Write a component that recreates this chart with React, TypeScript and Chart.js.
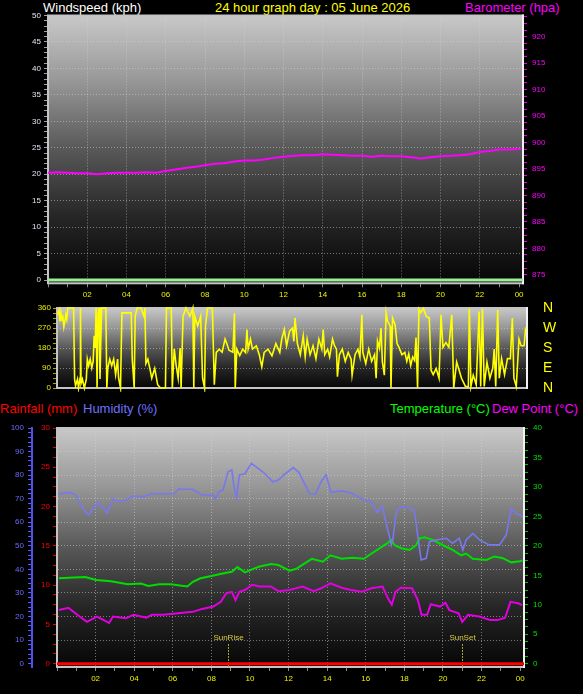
import { useEffect, useRef } from "react";
import { Chart, registerables } from "chart.js";

Chart.register(...registerables);

// ---- data (hours of the day) ----
const hourTicks = [0, 1, 2, 3, 4, 5, 6, 7, 8, 9, 10, 11, 12, 13, 14, 15, 16, 17, 18, 19, 20, 21, 22, 23, 24];
const hourLabels = ["02", "04", "06", "08", "10", "12", "14", "16", "18", "20", "22", "00"];

const speedTimes = [0, 24.2];
const speedValues = [0, 0];

const baroTimes = [0, 0.5, 1, 1.5, 2, 2.5, 3, 3.5, 4, 4.5, 5, 5.5, 6, 6.5, 7, 7.5, 8, 8.5, 9, 9.5, 10, 10.5, 11, 11.5, 12, 12.5, 13, 13.5, 14, 14.5, 15, 15.5, 16, 16.5, 17, 17.5, 18, 18.5, 19, 19.5, 20, 20.5, 21, 21.5, 22, 22.5, 23, 23.5, 24.1];
const baroValues = [894.3, 894.4, 894.3, 894.2, 894.2, 894.0, 894.2, 894.3, 894.3, 894.3, 894.4, 894.3, 894.6, 894.9, 895.2, 895.4, 895.7, 896.0, 896.1, 896.4, 896.6, 896.6, 896.8, 897.1, 897.3, 897.5, 897.6, 897.6, 897.8, 897.7, 897.6, 897.5, 897.5, 897.3, 897.5, 897.4, 897.4, 897.2, 897.0, 897.2, 897.4, 897.5, 897.6, 897.8, 898.2, 898.4, 898.7, 898.7, 898.8];

const dirTimes = [0.02, 0.1, 0.15, 0.2, 0.25, 0.3, 0.35, 0.4, 0.45, 0.5, 0.55, 0.85, 0.9, 0.95, 1.05, 1.1, 1.18, 1.2, 1.23, 1.3, 1.4, 1.5, 1.55, 1.62, 1.7, 1.78, 1.85, 1.9, 1.95, 2.0, 2.05, 2.1, 2.15, 2.2, 2.28, 2.5, 2.55, 2.6, 2.7, 2.8, 2.9, 3.0, 3.1, 3.15, 3.25, 3.32, 3.5, 3.8, 3.85, 3.95, 4.0, 4.1, 4.3, 4.45, 4.5, 4.55, 4.65, 4.75, 4.85, 5.0, 5.15, 5.3, 5.55, 5.6, 5.85, 5.9, 6.0, 6.1, 6.2, 6.3, 6.35, 6.45, 6.6, 6.8, 6.95, 7.0, 7.05, 7.2, 7.35, 7.45, 7.55, 7.6, 7.7, 7.95, 8.05, 8.15, 8.3, 8.45, 8.6, 8.7, 8.8, 9.0, 9.08, 9.12, 9.2, 9.35, 9.5, 9.65, 9.72, 9.78, 9.9, 10.0, 10.2, 10.35, 10.48, 10.6, 10.8, 11.0, 11.2, 11.4, 11.5, 11.63, 11.75, 11.9, 12.05, 12.12, 12.18, 12.3, 12.45, 12.6, 12.7, 12.8, 12.95, 13.1, 13.25, 13.4, 13.55, 13.62, 13.7, 13.85, 13.95, 14.1, 14.2, 14.3, 14.35, 14.45, 14.6, 14.75, 14.9, 15.05, 15.1, 15.25, 15.4, 15.5, 15.6, 15.65, 15.8, 15.95, 16.1, 16.25, 16.33, 16.4, 16.5, 16.58, 16.65, 16.75, 16.84, 16.92, 17.05, 17.09, 17.17, 17.3, 17.4, 17.5, 17.65, 17.8, 17.9, 18.0, 18.1, 18.2, 18.3, 18.37, 18.45, 18.52, 18.6, 18.75, 18.9, 19.05, 19.14, 19.25, 19.4, 19.55, 19.65, 19.75, 19.9, 20.05, 20.2, 20.3, 20.45, 20.55, 20.7, 20.9, 21.05, 21.1, 21.18, 21.3, 21.45, 21.6, 21.68, 21.77, 21.86, 22.0, 22.15, 22.3, 22.37, 22.45, 22.55, 22.63, 22.75, 22.9, 23.05, 23.2, 23.3, 23.38, 23.5, 23.64, 23.75, 23.9, 23.98, 24.05];
const dirValues = [330, 350, 300, 340, 310, 320, 275, 300, 330, 310, 360, 360, 40, 10, 40, 0, 45, 360, 20, 40, 0, 40, 130, 100, 130, 90, 120, 235, 180, 360, 0, 330, 360, 40, 360, 360, 0, 90, 130, 100, 130, 60, 130, 45, 0, 338, 338, 338, 132, 0, 323, 360, 360, 323, 360, 110, 130, 88, 44, 88, 15, 0, 0, 360, 360, 0, 176, 100, 44, 180, 0, 323, 360, 323, 360, 0, 323, 280, 323, 44, 0, 280, 360, 360, 15, 160, 175, 161, 220, 197, 170, 161, 336, 0, 175, 146, 175, 160, 263, 175, 220, 175, 190, 150, 95, 160, 175, 145, 200, 160, 220, 263, 190, 256, 270, 210, 315, 200, 150, 234, 140, 220, 150, 190, 132, 220, 175, 263, 150, 175, 140, 220, 190, 175, 51, 150, 175, 120, 160, 130, 58, 150, 175, 140, 329, 160, 110, 175, 120, 150, 44, 212, 180, 270, 117, 58, 339, 300, 278, 0, 315, 285, 200, 183, 150, 160, 120, 154, 102, 140, 124, 227, 0, 354, 340, 358, 322, 315, 80, 60, 88, 44, 329, 183, 205, 183, 329, 0, 117, 88, 44, 7, 7, 358, 7, 58, 15, 344, 7, 358, 7, 117, 44, 90, 175, 7, 351, 44, 132, 60, 132, 132, 315, 44, 7, 220, 190, 190, 270, 270];
const compassLabels = ["N", "E", "S", "W", "N"];

const rainTimes = [0, 24.2];
const rainValues = [0, 0];

const humTimes = [0.1, 0.68, 0.96, 1.2, 1.46, 1.64, 1.85, 2.07, 2.4, 2.6, 2.9, 3.2, 3.57, 3.95, 4.5, 4.9, 6.07, 6.3, 7.04, 7.5, 8.1, 8.2, 8.4, 8.6, 8.87, 9.06, 9.16, 9.3, 9.45, 9.74, 10.07, 10.3, 10.7, 11.18, 11.47, 11.76, 12.24, 12.53, 12.82, 13.1, 13.4, 13.69, 13.94, 14.2, 14.75, 15.3, 15.7, 16.3, 16.58, 16.87, 17.1, 17.25, 17.32, 17.4, 17.58, 17.84, 18.18, 18.53, 18.7, 18.87, 19.13, 19.3, 19.65, 20.17, 20.5, 20.85, 21.03, 21.2, 21.55, 21.9, 22.4, 22.93, 23.28, 23.54, 23.8, 24.14];
const humValues = [72.0, 72.7, 71.6, 68.0, 64.5, 63.1, 65.5, 68.2, 66.1, 63.9, 69.9, 68.7, 69.4, 71.1, 70.9, 72.1, 72.1, 74.0, 74.0, 71.6, 71.6, 69.9, 73.0, 73.6, 81.5, 82.2, 75.8, 70.2, 80.1, 80.6, 85.0, 83.6, 81.2, 77.2, 77.9, 80.1, 83.2, 81.2, 76.5, 72.1, 72.0, 77.2, 80.1, 72.7, 73.3, 72.3, 70.2, 68.7, 64.2, 66.6, 58.1, 53.3, 50.4, 52.5, 64.5, 66.6, 66.6, 64.5, 53.9, 44.0, 44.7, 51.8, 52.5, 53.2, 51.1, 53.2, 48.2, 52.5, 55.3, 52.5, 50.4, 50.4, 54.6, 65.9, 63.8, 62.4];

const tempTimes = [0.1, 0.6, 1.46, 2.03, 2.8, 3.67, 4.35, 4.73, 5.3, 5.89, 6.75, 7.04, 7.43, 8.0, 8.58, 9.06, 9.35, 9.74, 10.1, 10.5, 11.1, 11.47, 12.05, 12.4, 13.2, 13.78, 14.17, 14.75, 15.3, 15.9, 16.3, 16.67, 17.14, 17.32, 17.5, 17.84, 18.27, 18.6, 18.8, 19.05, 19.47, 20.0, 20.5, 20.95, 21.2, 21.55, 22.25, 22.67, 23.1, 23.54, 23.97, 24.12];
const tempValues = [14.5, 14.6, 14.7, 14.2, 14.0, 13.5, 13.6, 13.2, 13.5, 13.5, 13.1, 13.9, 14.5, 14.9, 15.3, 15.6, 16.4, 15.5, 16.0, 16.5, 16.9, 16.75, 15.8, 16.1, 17.8, 17.3, 18.4, 17.8, 18.0, 17.8, 18.7, 19.5, 20.5, 21.0, 20.1, 19.6, 19.3, 20.1, 21.3, 21.45, 21.0, 20.1, 19.3, 18.4, 18.7, 17.8, 17.6, 18.2, 17.9, 17.2, 17.4, 17.5];

const dewTimes = [0.1, 0.59, 1.17, 1.55, 2.07, 2.5, 2.7, 2.9, 3.57, 3.96, 4.63, 4.92, 5.5, 6.27, 7.04, 7.52, 8.1, 8.49, 8.77, 9.06, 9.25, 9.45, 9.74, 10.12, 10.5, 11.08, 11.47, 12.05, 12.72, 13.3, 13.69, 14.17, 14.75, 15.23, 15.8, 16.29, 16.87, 17.15, 17.35, 17.54, 17.83, 18.4, 18.7, 18.89, 19.18, 19.37, 19.85, 20.13, 20.33, 20.81, 21.0, 21.3, 21.88, 22.45, 22.83, 23.22, 23.5, 23.9, 24.1];
const dewValues = [9.1, 9.5, 8.0, 7.1, 8.0, 7.25, 6.9, 8.0, 7.7, 8.3, 7.8, 8.3, 8.3, 8.55, 8.8, 9.3, 9.7, 10.5, 11.95, 12.2, 10.8, 12.2, 12.5, 13.4, 13.1, 13.1, 12.3, 12.5, 13.1, 12.3, 12.8, 13.65, 12.9, 12.5, 12.2, 12.8, 13.1, 11.1, 10.0, 12.2, 12.9, 12.8, 10.8, 8.3, 8.3, 10.1, 9.7, 10.35, 9.1, 8.55, 7.1, 8.3, 8.0, 7.4, 7.4, 7.8, 10.5, 10.25, 9.95];

const sunTimes = [8.87, 21.0];
const sunLabels = ["SunRise", "SunSet"];

// ---- styling helpers ----
const FONT = "'Liberation Sans', Arial, sans-serif";
const tickFont = { family: FONT, size: 8 };
const GRID = "rgba(215,215,215,0.5)";

const pts = (t: number[], v: number[]) => t.map((x, i) => ({ x, y: v[i] }));
const steps = (from: number, to: number, step: number) => {
  const out: number[] = [];
  for (let v = from; v <= to + 1e-9; v += step) out.push(Math.round(v * 100) / 100);
  return out;
};

const panel = {
  id: "panel",
  beforeDraw(c: any) {
    const { ctx, chartArea: a } = c;
    const g = ctx.createLinearGradient(0, a.top, 0, a.bottom);
    g.addColorStop(0, "#c8c8c8");
    g.addColorStop(0.25, "#969696");
    g.addColorStop(0.5, "#585858");
    g.addColorStop(0.75, "#262626");
    g.addColorStop(1, "#060606");
    ctx.save();
    ctx.fillStyle = g;
    ctx.fillRect(a.left, a.top, a.right - a.left, a.bottom - a.top);
    ctx.restore();
  },
  beforeDatasetsDraw(c: any) {
    const { ctx, chartArea: a } = c;
    ctx.save();
    ctx.lineWidth = 2;
    ctx.strokeStyle = "#c4c4c4";
    ctx.strokeRect(a.left, a.top, a.right - a.left, a.bottom - a.top);
    ctx.strokeStyle = "#f2f2f2";
    ctx.beginPath();
    ctx.moveTo(a.right, a.top - 1);
    ctx.lineTo(a.right, a.bottom + 1);
    ctx.stroke();
    ctx.restore();
  },
};

const sunMarks = {
  id: "sunMarks",
  beforeDatasetsDraw(c: any) {
    const { ctx, chartArea: a, scales } = c;
    sunTimes.forEach((t, i) => {
      const x = Math.round(scales.x.getPixelForValue(t)) + 0.5;
      ctx.save();
      ctx.strokeStyle = "#a8a030";
      ctx.lineWidth = 1;
      ctx.setLineDash([2, 1]);
      ctx.beginPath();
      ctx.moveTo(x, a.bottom - 23);
      ctx.lineTo(x, a.bottom);
      ctx.stroke();
      ctx.fillStyle = "#d8cc40";
      ctx.font = `8px ${FONT}`;
      ctx.textAlign = "center";
      ctx.textBaseline = "middle";
      ctx.fillText(sunLabels[i], x, a.bottom - 29);
      ctx.restore();
    });
  },
};

function xAxis(max: number, height: number) {
  return {
    type: "linear",
    position: "bottom",
    min: 0,
    max,
    afterBuildTicks: (s: any) => {
      s.ticks = hourTicks.map((value) => ({ value }));
    },
    afterFit: (s: any) => {
      s.height = height;
    },
    ticks: {
      autoSkip: false,
      maxRotation: 0,
      color: "#f0f000",
      font: tickFont,
      padding: 3,
      callback: (v: number) => (v > 0 && v % 2 === 0 ? hourLabels[v / 2 - 1] : ""),
    },
    grid: {
      color: (ctx: any) => (ctx.tick && ctx.tick.value > 0 && ctx.tick.value < 24 && ctx.tick.value % 2 === 0 ? GRID : "transparent"),
      tickColor: "#8a8a8a",
      tickLength: 4,
    },
    border: { display: false, dash: [1, 2] },
  };
}

type YOpts = {
  position: string;
  min: number;
  max: number;
  ticks: number[];
  major: number;
  color: string;
  tickColor: string;
  width: number;
  padding: number;
  gridEvery?: number;
  weight?: number;
  border?: any;
  labelFont?: any;
  labels?: (v: number) => string;
  tickLength?: number;
};

function yAxis(o: YOpts) {
  return {
    type: "linear",
    position: o.position,
    min: o.min,
    max: o.max,
    weight: o.weight ?? 0,
    afterBuildTicks: (s: any) => {
      s.ticks = o.ticks.map((value) => ({ value }));
    },
    afterFit: (s: any) => {
      s.width = o.width;
    },
    ticks: {
      autoSkip: false,
      color: o.color,
      font: o.labelFont ?? tickFont,
      padding: o.padding,
      callback: (v: number) => (o.labels ? o.labels(v) : Math.abs(v % o.major) < 1e-6 ? String(v) : ""),
    },
    grid: {
      drawOnChartArea: !!o.gridEvery,
      color: (ctx: any) =>
        o.gridEvery && ctx.tick && ctx.tick.value > o.min + 0.01 && ctx.tick.value < o.max - 0.01 && Math.abs(ctx.tick.value % o.gridEvery) < 1e-6
          ? GRID
          : "transparent",
      tickColor: o.tickColor,
      tickLength: o.tickLength ?? 4,
    },
    border: o.border ?? { display: false, dash: [1, 2] },
  };
}

const base = {
  animation: false,
  responsive: true,
  maintainAspectRatio: false,
  events: [],
  plugins: { legend: { display: false }, tooltip: { enabled: false } },
  elements: { point: { radius: 0 }, line: { tension: 0 } },
};

const head = (left: number, top: number, color: string, text: string) => (
  <div style={{ position: "absolute", left, top, color, font: `13px ${FONT}`, lineHeight: "15px", whiteSpace: "nowrap" }}>{text}</div>
);

export default function App() {
  const r1 = useRef<HTMLCanvasElement | null>(null);
  const r2 = useRef<HTMLCanvasElement | null>(null);
  const r3 = useRef<HTMLCanvasElement | null>(null);

  useEffect(() => {
    if (!r1.current || !r2.current || !r3.current) return;

    // wind speed + barometer
    const c1 = new Chart(r1.current, {
      type: "line",
      data: {
        datasets: [
          { data: pts(baroTimes, baroValues), yAxisID: "yb", borderColor: "#ff00ff", borderWidth: 2 },
          { data: pts(speedTimes, speedValues), yAxisID: "y", borderColor: "#98f098", borderWidth: 3 },
        ],
      },
      options: {
        ...base,
        layout: { padding: { top: 15.5, left: 0, right: 0, bottom: 0 } },
        scales: {
          x: xAxis(24.2, 16.7),
          y: yAxis({ position: "left", min: -0.6, max: 50, ticks: steps(0, 50, 1), major: 5, color: "#e4e4f4", tickColor: "#a0a0a0", width: 48, padding: 3, gridEvery: 5 }),
          yb: yAxis({ position: "right", min: 873.4, max: 924, ticks: steps(875, 923.75, 1.25), major: 5, color: "#ff00ff", tickColor: "#e000e0", width: 60, padding: 5 }),
        },
      } as any,
      plugins: [panel],
    });

    // wind direction
    const c2 = new Chart(r2.current, {
      type: "line",
      data: {
        datasets: [{ data: pts(dirTimes, dirValues), yAxisID: "y", borderColor: "#ffff00", borderWidth: 1.6, clip: 4 }],
      },
      options: {
        ...base,
        layout: { padding: { top: 8, left: 0, right: 0, bottom: 5 } },
        scales: {
          x: { type: "linear", min: 0, max: 24.05, display: false },
          y: yAxis({ position: "left", min: 0, max: 360, ticks: steps(0, 360, 22.5), major: 90, color: "#e8e800", tickColor: "#a8a800", width: 57, padding: 2, gridEvery: 90 }),
          yd: yAxis({
            position: "right",
            min: 0,
            max: 360,
            ticks: [0, 90, 180, 270, 360],
            major: 90,
            color: "#ffff00",
            tickColor: "transparent",
            width: 56,
            padding: 0,
            tickLength: 16,
            labelFont: { family: FONT, size: 14, lineHeight: 1 },
            labels: (v: number) => compassLabels[v / 90],
          }),
        },
      } as any,
      plugins: [panel],
    });

    // rainfall, humidity, temperature, dew point
    const c3 = new Chart(r3.current, {
      type: "line",
      data: {
        datasets: [
          { data: pts(humTimes, humValues), yAxisID: "hum", borderColor: "#7878ee", borderWidth: 1.6 },
          { data: pts(tempTimes, tempValues), yAxisID: "temp", borderColor: "#00dd00", borderWidth: 2 },
          { data: pts(dewTimes, dewValues), yAxisID: "temp", borderColor: "#e000e0", borderWidth: 2 },
          { data: pts(rainTimes, rainValues), yAxisID: "rain", borderColor: "#ff0000", borderWidth: 3 },
        ],
      },
      options: {
        ...base,
        layout: { padding: { top: 33, left: 0, right: 0, bottom: 0 } },
        scales: {
          x: xAxis(24.2, 27),
          hum: yAxis({
            position: "left",
            weight: 1,
            min: -1.4,
            max: 100,
            ticks: steps(0, 100, 2),
            major: 10,
            color: "#6a6aff",
            tickColor: "#5a5aff",
            width: 32,
            padding: 4,
            gridEvery: 10,
            border: { display: true, color: "#5050f0", width: 2, dash: [1, 2] },
          }),
          rain: yAxis({ position: "left", min: -0.42, max: 30, ticks: steps(0, 30, 1.25), major: 5, color: "#ff0000", tickColor: "#e00000", width: 25, padding: 3 }),
          temp: yAxis({ position: "right", min: -0.56, max: 40, ticks: steps(0, 40, 1.25), major: 5, color: "#00e000", tickColor: "#00c000", width: 59, padding: 5 }),
        },
      } as any,
      plugins: [panel, sunMarks],
    });

    return () => {
      c1.destroy();
      c2.destroy();
      c3.destroy();
    };
  }, []);

  return (
    <div style={{ position: "fixed", left: 0, top: 0, width: 583, height: 694, background: "#000", overflow: "hidden" }}>
      {head(43, 0, "#ffffff", "Windspeed (kph)")}
      {head(215, 0, "#ffff00", "24 hour graph day : 05 June 2026")}
      {head(465, 0, "#ff00ff", "Barometer (hpa)")}
      {head(0, 401, "#ff0000", "Rainfall (mm)")}
      {head(83, 401, "#7070ff", "Humidity (%)")}
      {head(390, 401, "#00ff00", "Temperature (°C)")}
      {head(492, 401, "#ff00ff", "Dew Point (°C)")}
      <div style={{ position: "absolute", left: 0, top: 0, width: 583, height: 300 }}>
        <canvas ref={r1} />
      </div>
      <div style={{ position: "absolute", left: 0, top: 300, width: 583, height: 95 }}>
        <canvas ref={r2} />
      </div>
      <div style={{ position: "absolute", left: 0, top: 395, width: 583, height: 299 }}>
        <canvas ref={r3} />
      </div>
    </div>
  );
}
